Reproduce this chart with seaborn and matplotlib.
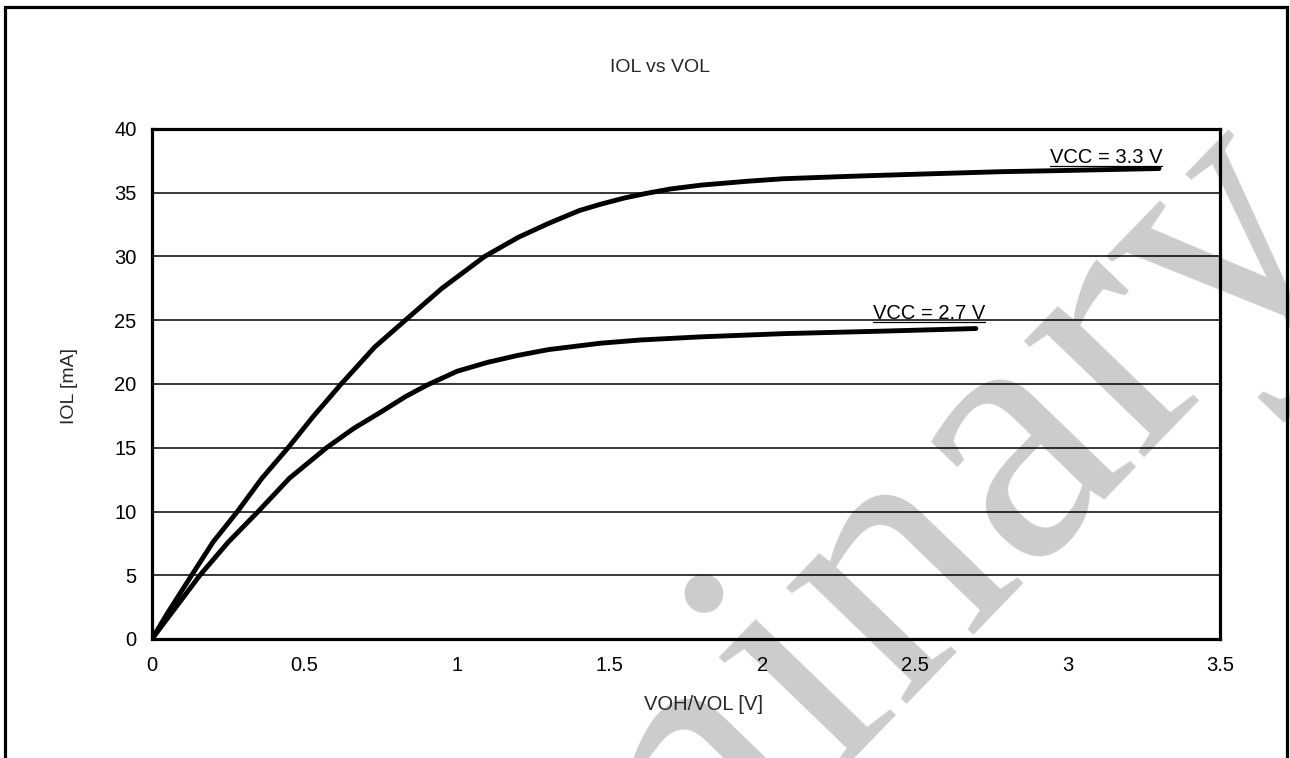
import numpy as np
import pandas as pd
import matplotlib
matplotlib.use("Agg")
import matplotlib.pyplot as plt
from matplotlib.patches import Rectangle
import seaborn as sns

# ---- data ----
vol_33 = [0, 0.05, 0.13, 0.20, 0.28, 0.36, 0.446, 0.53, 0.62, 0.73, 0.83, 0.95, 1.09, 1.20,
          1.30, 1.40, 1.47, 1.55, 1.62, 1.70, 1.80, 1.95, 2.07, 2.30, 2.50, 2.78, 3.00, 3.30]
iol_33 = [0, 2.0, 5.0, 7.6, 10.0, 12.6, 15.0, 17.5, 20.0, 22.9, 25.0, 27.5, 30.0, 31.5,
          32.6, 33.6, 34.1, 34.6, 34.95, 35.3, 35.6, 35.9, 36.1, 36.3, 36.45, 36.65, 36.75, 36.9]
vol_27 = [0, 0.05, 0.157, 0.25, 0.348, 0.45, 0.572, 0.66, 0.75, 0.83, 0.90, 1.00, 1.10, 1.20,
          1.30, 1.47, 1.60, 1.80, 2.07, 2.40, 2.70]
iol_27 = [0, 1.6, 5.0, 7.6, 10.0, 12.6, 15.0, 16.5, 17.8, 19.0, 19.9, 21.0, 21.7, 22.25,
          22.7, 23.2, 23.45, 23.7, 23.95, 24.15, 24.35]
series_names = ["VCC = 3.3 V", "VCC = 2.7 V"]
label_pos = [(3.31, 37.3), (2.73, 25.1)]
x_ticks = [0, 0.5, 1, 1.5, 2, 2.5, 3, 3.5]
x_tick_labels = ["0", "0.5", "1", "1.5", "2", "2.5", "3", "3.5"]
y_ticks = [0, 5, 10, 15, 20, 25, 30, 35, 40]
title = "IOL vs VOL"
xlabel = "VOH/VOL [V]"
ylabel = "IOL [mA]"
watermark = "Preliminary"

df = pd.concat([
    pd.DataFrame({"V": vol_33, "I": iol_33, "series": series_names[0]}),
    pd.DataFrame({"V": vol_27, "I": iol_27, "series": series_names[1]}),
], ignore_index=True)

sns.set_theme(style="white")
plt.rcParams["font.family"] = ["Liberation Sans", "DejaVu Sans"]

W, H = 1290, 758
FS = 14.5
fig = plt.figure(figsize=(W / 100, H / 100), dpi=100)
fig.patch.set_facecolor("white")

# watermark behind everything
fig.text(689 / W, 1 - 794 / H, watermark, rotation=46, rotation_mode="anchor",
         ha="center", va="center", fontsize=262, family="Liberation Serif",
         color="#cccccc", zorder=-5)

# outer frame
fig.patches.append(Rectangle((5 / W, -0.1), 1282 / W, 1 - 7 / H + 0.1, fill=False,
                             lw=2.3, edgecolor="black", transform=fig.transFigure,
                             figure=fig, zorder=-4))

ax = fig.add_axes([152 / W, 1 - 639 / H, (1220 - 152) / W, (639 - 129) / H])
ax.set_facecolor("none")

sns.lineplot(data=df, x="V", y="I", hue="series", units="series", estimator=None,
             sort=False, palette=["black", "black"], linewidth=3.5, legend=False, ax=ax)
for ln in ax.get_lines():
    ln.set_solid_capstyle("round")
    ln.set_solid_joinstyle("round")
    ln.set_zorder(3)

ax.set_xlim(0, 3.5)
ax.set_ylim(0, 40)
ax.set_xticks(x_ticks)
ax.set_xticklabels(x_tick_labels)
ax.set_yticks(y_ticks)
ax.tick_params(axis="x", direction="in", length=5, width=1.5, pad=12, labelsize=FS, colors="black")
ax.tick_params(axis="y", direction="in", length=5, width=1.5, pad=11, labelsize=FS, colors="black")
ax.yaxis.grid(True, color="black", linewidth=1.1)
ax.xaxis.grid(False)
ax.set_axisbelow(True)
for s in ax.spines.values():
    s.set_visible(True)
    s.set_color("black")
    s.set_linewidth(2.3)
ax.set_xlabel("")
ax.set_ylabel("")

texts = []
for name, (lx, ly) in zip(series_names, label_pos):
    t = ax.text(lx, ly, name, ha="right", va="baseline", fontsize=FS, color="black", zorder=4)
    texts.append(t)

fig.text(660 / W, 1 - 68 / H, title, ha="center", va="center", fontsize=14)
fig.text(704 / W, 1 - 705 / H, xlabel, ha="center", va="center", fontsize=FS)
fig.text(70 / W, 1 - 386 / H, ylabel, ha="center", va="center", rotation=90, fontsize=14)

# underline labels (derived from text extents)
fig.canvas.draw()
inv = fig.transFigure.inverted()
for t in texts:
    bb = t.get_window_extent()
    (x0, y0), (x1, _) = inv.transform([(bb.x0, bb.y0), (bb.x1, bb.y0)])
    yy = y0 + 1.0 / H
    fig.add_artist(plt.Line2D([x0, x1], [yy, yy], color="black",
                              lw=0.9, transform=fig.transFigure))

fig.savefig("out.png", dpi=100, facecolor="white")
